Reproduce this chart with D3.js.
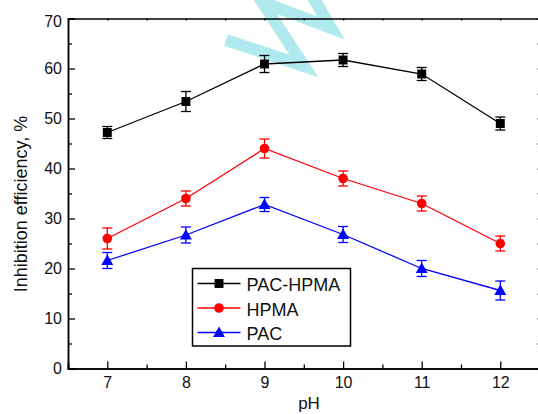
<!DOCTYPE html>
<html>
<head>
<meta charset="utf-8">
<script src="https://cdn.jsdelivr.net/npm/d3@7"></script>
<style>
  html, body { margin: 0; padding: 0; background: #fff; }
  svg { display: block; }
  text { font-family: "Liberation Sans", Arial, sans-serif; fill: #111; }
</style>
</head>
<body>
<svg id="chart" width="538" height="414"></svg>
<script>
// ---- data ----
const pH = [7, 8, 9, 10, 11, 12];
const pacHpma = [47.2, 53.4, 60.9, 61.7, 58.9, 49.0];
const pacHpmaErr = [1.2, 2.0, 1.7, 1.3, 1.3, 1.3];
const hpma = [26.0, 34.0, 44.0, 38.0, 33.0, 25.0];
const hpmaErr = [2.1, 1.5, 1.9, 1.5, 1.5, 1.5];
const pac = [21.6, 26.7, 32.8, 26.8, 20.0, 15.6];
const pacErr = [1.6, 1.6, 1.4, 1.6, 1.6, 1.9];
const seriesNames = ["PAC-HPMA", "HPMA", "PAC"];
const xTicks = [7, 8, 9, 10, 11, 12];
const xMinor = [7.5, 8.5, 9.5, 10.5, 11.5, 12.5];
const yTicks = [0, 10, 20, 30, 40, 50, 60, 70];
const yMinor = [5, 15, 25, 35, 45, 55, 65];
const xTitle = "pH";
const yTitle = "Inhibition efficiency, %";

const series = [
  { name: seriesNames[0], values: pacHpma, err: pacHpmaErr, color: "#000000", symbol: d3.symbolSquare, size: 80 },
  { name: seriesNames[1], values: hpma, err: hpmaErr, color: "#ff0000", symbol: d3.symbolCircle, size: 72 },
  { name: seriesNames[2], values: pac, err: pacErr, color: "#0000ff", symbol: d3.symbolTriangle, size: 62 }
];

const svg = d3.select("#chart");
const L = 68, R = 539.6, T = 18.5, B = 368.5;
const x = d3.scaleLinear().domain([6.5, 12.5]).range([L, R]);
const y = d3.scaleLinear().domain([0, 70]).range([B, T]);

// watermark (decoration)
svg.append("path")
  .attr("d", d3.line()([[226, 40], [304, 66], [262, 2], [331, 28], [306, -15]]))
  .attr("fill", "none")
  .attr("stroke", "#b0eaee")
  .attr("stroke-width", 12)
  .attr("stroke-linejoin", "miter")
  .attr("stroke-miterlimit", 10);

// axes
const gx = svg.append("g").attr("transform", `translate(0,${B})`)
  .call(d3.axisBottom(x).tickValues(xTicks).tickSize(-7).tickPadding(8).tickFormat(d3.format("d")));
svg.append("g").attr("transform", `translate(0,${B})`)
  .call(d3.axisBottom(x).tickValues(xMinor).tickSize(-4).tickFormat(""));
const gy = svg.append("g").attr("transform", `translate(${L},0)`)
  .call(d3.axisLeft(y).tickValues(yTicks).tickSize(-7).tickPadding(6).tickFormat(d3.format("d")));
svg.append("g").attr("transform", `translate(${L},0)`)
  .call(d3.axisLeft(y).tickValues(yMinor).tickSize(-4).tickFormat(""));
svg.append("g").attr("transform", `translate(0,${T})`)
  .call(d3.axisTop(x).tickValues(xTicks.concat(xMinor)).tickSize(-2).tickFormat(""));
svg.append("g").attr("transform", `translate(${R},0)`)
  .call(d3.axisRight(y).tickValues(yTicks.concat(yMinor)).tickSize(-2).tickFormat(""));

svg.selectAll(".domain").attr("stroke", "#000").attr("stroke-width", 1.5);
svg.selectAll(".tick line").attr("stroke", "#000").attr("stroke-width", 1.3);
svg.selectAll(".tick text").attr("font-size", 16).attr("font-family", "Liberation Sans, Arial, sans-serif").attr("fill", "#111");
gx.selectAll(".tick text").attr("dy", "0.71em");
gy.selectAll(".tick text").attr("dy", d => d === 70 ? "0.5em" : "0.34em");

// titles
svg.append("text").attr("x", 309).attr("y", 409).attr("text-anchor", "middle")
  .attr("font-size", 17).text(xTitle);
svg.append("text").attr("transform", "translate(27,204) rotate(-90)").attr("text-anchor", "middle")
  .attr("font-size", 18).text(yTitle);

// series
series.forEach(s => {
  const g = svg.append("g");
  const pts = pH.map((p, i) => ({ p, v: s.values[i], e: s.err[i] }));
  g.append("path")
    .attr("d", d3.line().x(d => x(d.p)).y(d => y(d.v))(pts))
    .attr("fill", "none").attr("stroke", s.color).attr("stroke-width", 1.3);
  const eb = g.selectAll(".eb").data(pts).enter().append("g");
  eb.append("line").attr("x1", d => x(d.p)).attr("x2", d => x(d.p))
    .attr("y1", d => y(d.v - d.e)).attr("y2", d => y(d.v + d.e))
    .attr("stroke", s.color).attr("stroke-width", 1.3);
  [1, -1].forEach(sign => {
    eb.append("line").attr("x1", d => x(d.p) - 5).attr("x2", d => x(d.p) + 5)
      .attr("y1", d => y(d.v + sign * d.e)).attr("y2", d => y(d.v + sign * d.e))
      .attr("stroke", s.color).attr("stroke-width", 1.3);
  });
  g.selectAll(".m").data(pts).enter().append("path")
    .attr("d", d3.symbol().type(s.symbol).size(s.size))
    .attr("transform", d => `translate(${x(d.p)},${y(d.v) + (s.symbol === d3.symbolTriangle ? 1 : 0)})`)
    .attr("fill", s.color);
});

// legend
const lg = svg.append("g");
lg.append("rect").attr("x", 192.5).attr("y", 268.5).attr("width", 158).attr("height", 77.5)
  .attr("fill", "#fff").attr("stroke", "#000").attr("stroke-width", 1.5);
series.forEach((s, i) => {
  const cy = 283.5 + i * 24.5;
  lg.append("line").attr("x1", 197.5).attr("x2", 240.5).attr("y1", cy).attr("y2", cy)
    .attr("stroke", s.color).attr("stroke-width", 1.3);
  lg.append("path").attr("d", d3.symbol().type(s.symbol).size(s.size))
    .attr("transform", `translate(219,${cy + (s.symbol === d3.symbolTriangle ? 1 : 0)})`).attr("fill", s.color);
  lg.append("text").attr("x", 246.5).attr("y", cy + 7.5).attr("font-size", 18).text(s.name);
});
</script>
</body>
</html>
